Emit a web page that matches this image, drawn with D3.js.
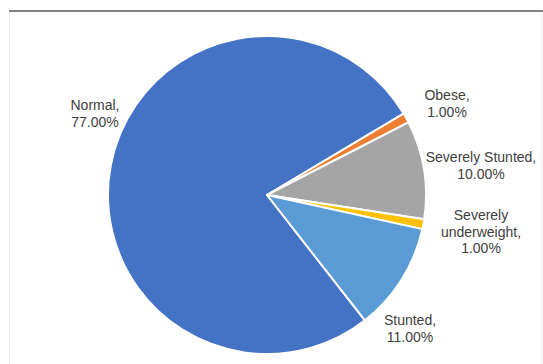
<!DOCTYPE html>
<html>
<head>
<meta charset="utf-8">
<script src="https://cdn.jsdelivr.net/npm/d3@7"></script>
<style>
  body { margin: 0; background: #fff; }
  text { font-family: "Liberation Sans", Arial, sans-serif; }
</style>
</head>
<body>
<div id="chart"></div>
<script>
var categories = ["Normal", "Obese", "Severely Stunted", "Severely underweight", "Stunted"];
var values = [77, 1, 10, 1, 11];
var colors = ["#4472C4", "#ED7D31", "#A5A5A5", "#FFC000", "#5B9BD5"];
// label lines + label anchor positions
var labelLines = [["Normal,", "77.00%"], ["Obese,", "1.00%"], ["Severely Stunted,", "10.00%"],
                  ["Severely", "underweight,", "1.00%"], ["Stunted,", "11.00%"]];
var labelPos = [[95, 105], [447, 95], [481, 157], [481, 215], [410, 320]];

var width = 543, height = 364;
var cx = 267, cy = 195, radius = 159;

var svg = d3.select("#chart").append("svg")
  .attr("width", width)
  .attr("height", height);

// frame lines
svg.append("line").attr("x1", 9).attr("x2", width).attr("y1", 11).attr("y2", 11)
  .style("stroke", "#595959").style("stroke-width", 1.5);
svg.append("line").attr("x1", 9.5).attr("x2", 9.5).attr("y1", 12).attr("y2", height)
  .style("stroke", "#ececec").style("stroke-width", 1);
svg.append("line").attr("x1", 541.5).attr("x2", 541.5).attr("y1", 12).attr("y2", height)
  .style("stroke", "#f0f0f0").style("stroke-width", 1);

var startAngle = 142 * Math.PI / 180;
var pie = d3.pie().sort(null)
  .startAngle(startAngle)
  .endAngle(startAngle + 2 * Math.PI);
var arc = d3.arc().innerRadius(0).outerRadius(radius);

var g = svg.append("g").attr("transform", "translate(" + cx + "," + cy + ")");
g.selectAll("path")
  .data(pie(values))
  .enter().append("path")
  .attr("d", arc)
  .style("fill", function(d, i) { return colors[i]; })
  .style("stroke", "#fff")
  .style("stroke-width", 2)
  .style("stroke-linejoin", "round");

var labels = svg.selectAll("text.lbl")
  .data(categories)
  .enter().append("text")
  .attr("class", "lbl")
  .attr("text-anchor", "middle")
  .style("font-size", "14px")
  .style("fill", "#404040");

labels.each(function(d, i) {
  var t = d3.select(this);
  labelLines[i].forEach(function(line, j) {
    t.append("tspan")
      .attr("x", labelPos[i][0])
      .attr("y", labelPos[i][1] + j * 16.5 + 5)
      .text(line);
  });
});
</script>
</body>
</html>
